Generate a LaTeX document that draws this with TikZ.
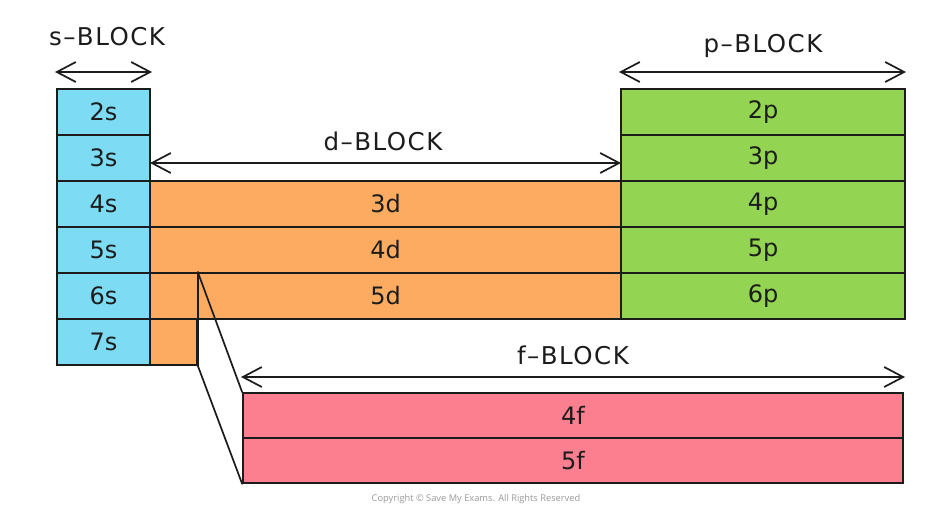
\documentclass[tikz,border=0pt]{standalone}
\usepackage{fontspec}
\setmainfont{DejaVu Sans}
\newfontfamily\labfont[LetterSpace=6]{DejaVu Sans}
\newfontfamily\copyfont{Open Sans}
\usetikzlibrary{arrows.meta}
\definecolor{sblue}{HTML}{7DDCF4}
\definecolor{dorange}{HTML}{FDAB60}
\definecolor{pgreen}{HTML}{93D453}
\definecolor{fpink}{HTML}{FC7F90}
\definecolor{ink}{HTML}{1C1C1C}
\tikzset{
  cell/.style={draw=ink, line width=1.7pt, inner sep=0pt, text=ink,
    font=\fontsize{24}{26}\selectfont},
  dbl/.style={draw=ink, line width=1.7pt,
    {Straight Barb[length=19pt,width=20pt,line width=1.7pt]}-{Straight Barb[length=19pt,width=20pt,line width=1.7pt]}},
  blocklab/.style={text=ink, inner sep=0pt, font=\labfont\fontsize{24.5}{26}\selectfont},
  link/.style={draw=ink, line width=1.7pt, line cap=round}
}
\begin{document}
\begin{tikzpicture}[x=1pt,y=-1pt]
\path[use as bounding box, fill=white] (0,0) rectangle (932,514);
% s-block
\foreach \n/\y in {2/112,3/158,4/204,5/250,6/296,7/342}{
  \node[cell, fill=sblue, minimum width=93pt, minimum height=46pt] (s\n) at (103.5,\y) {\n s};
}
% p-block
\foreach \n/\y in {2/112,3/158,4/204,5/250,6/296}{
  \node[cell, fill=pgreen, minimum width=284pt, minimum height=46pt] (p\n) at (763,\y) {\n p};
}
% d-block
\foreach \n/\y in {3/204,4/250,5/296}{
  \node[cell, fill=dorange, minimum width=471pt, minimum height=46pt] (d\n) at (385.5,\y) {\n d};
}
\node[cell, fill=dorange, minimum width=47pt, minimum height=46pt] (la) at (173.5,342) {};
% f-block
\node[cell, fill=fpink, minimum width=660pt, minimum height=45pt] (f4) at (573,415.5) {4f};
\node[cell, fill=fpink, minimum width=660pt, minimum height=45pt] (f5) at (573,460.5) {5f};
% links
\coordinate (lt) at (la.north east |- d5.north);
\draw[link] (lt) -- (la.south east);
\draw[link] (lt) -- (f4.north west);
\draw[link] (la.south east) -- (f5.south west);
% arrows
\coordinate (sa1) at (55,72); \coordinate (sa2) at (152,72);
\coordinate (pa1) at (619,72); \coordinate (pa2) at (906,72);
\coordinate (da1) at (150,163); \coordinate (da2) at (621,163);
\coordinate (fa1) at (241,377); \coordinate (fa2) at (905,377);
\draw[dbl] (sa1) -- (sa2);
\draw[dbl] (pa1) -- (pa2);
\draw[dbl] (da1) -- (da2);
\draw[dbl] (fa1) -- (fa2);
% labels
\node[blocklab] (sl) at (107,37) {s–BLOCK};
\node[blocklab] (pl) at (763,46) {p–BLOCK};
\node[blocklab] (dl) at (383,141) {d–BLOCK};
\node[blocklab] (fl) at (573,355) {f–BLOCK};
\node[text=gray!80, font=\copyfont\fontsize{9.3}{10}\selectfont] (cp) at (476,499) {Copyright © Save My Exams. All Rights Reserved};
\end{tikzpicture}
\end{document}
